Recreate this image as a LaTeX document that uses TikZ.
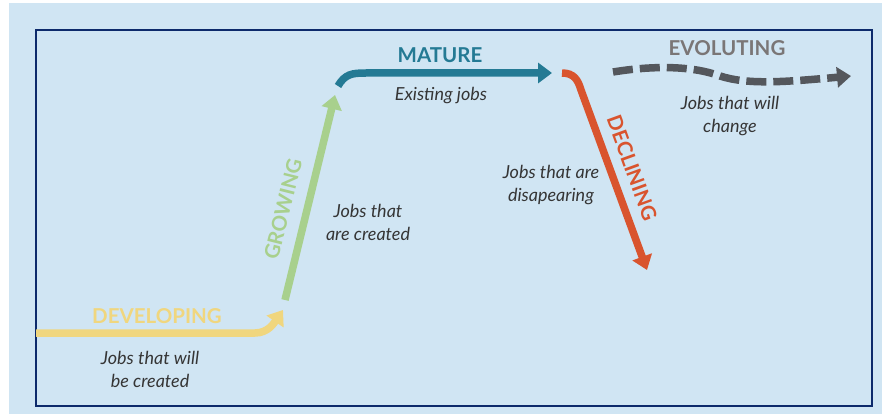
\documentclass[tikz,border=0pt]{standalone}
\usepackage{fontspec}
\setmainfont{Lato}
\usetikzlibrary{arrows.meta}
\definecolor{bgblue}{HTML}{D0E5F3}
\definecolor{frameblue}{HTML}{0D2A6B}
\definecolor{cyellow}{HTML}{F0D67E}
\definecolor{cgreen}{HTML}{A8D08D}
\definecolor{cteal}{HTML}{247A94}
\definecolor{cred}{HTML}{D9542E}
\definecolor{cgray}{HTML}{54575C}
\definecolor{cgraytxt}{HTML}{7A7676}
\definecolor{txt}{HTML}{353535}
\tikzset{
  phase/.style={line width=7.5pt, -{Triangle[length=14pt,width=20pt]}},
  head/.style={font=\fontsize{20.5}{24}\selectfont\bfseries, inner sep=0pt},
  desc/.style={font=\fontsize{18}{23}\selectfont\itshape, text=txt, align=center, inner sep=0pt},
}
\begin{document}
\begin{tikzpicture}[x=1pt,y=-1pt]
\useasboundingbox[fill=white] (0,0) rectangle (882,414);
\fill[bgblue] (9,3) rectangle (882,414);
\draw[frameblue, line width=2.2pt] (36,30) rectangle (872,406);

% coordinates
\coordinate (y0) at (36,333);
\coordinate (y1) at (283,310);
\coordinate (g0) at (285,300);
\coordinate (g1) at (335,95);
\coordinate (m0) at (338,86);
\coordinate (m1) at (552,73);
\coordinate (r0) at (562,73);
\coordinate (r1) at (647,270);
\coordinate (e0) at (613,72);
\coordinate (e1) at (851,76);

% arrows
\draw[phase, cyellow] (y0) -- (255,333) .. controls (268,333) and (274,323) .. (y1);
\draw[phase, cgreen] (g0) -- (g1);
\draw[phase, cteal] (m0) .. controls (345,74) and (352,73) .. (366,73) -- (m1);
\draw[phase, cred] (r0) .. controls (574,73) and (578,80) .. (581,90) -- (r1);
\draw[phase, cgray, dash pattern=on 20pt off 7pt] (e0) .. controls (650,66) and (690,65) .. (720,76) .. controls (748,85) and (785,82) .. (e1);

% headings
\node[head, text=cyellow] (hdev) at (157,316) {DEVELOPING};
\node[head, text=cgreen, rotate=76] (hgro) at (283,209) {GROWING};
\node[head, text=cteal] (hmat) at (440,55) {MATURE};
\node[head, text=cred, rotate=-70] (hdec) at (632,168) {DECLINING};
\node[head, text=cgraytxt] (hevo) at (727,48) {EVOLUTING};

% descriptions
\node[desc] (ddev) at (150,369) {Jobs that will\\be created};
\node[desc] (dgro) at (368,222) {Jobs that\\are created};
\node[desc] (dmat) at (441,96) {Existing jobs};
\node[desc] (ddec) at (551,185) {Jobs that are\\disapearing};
\node[desc] (devo) at (730,116) {Jobs that will\\change};
\end{tikzpicture}
\end{document}
